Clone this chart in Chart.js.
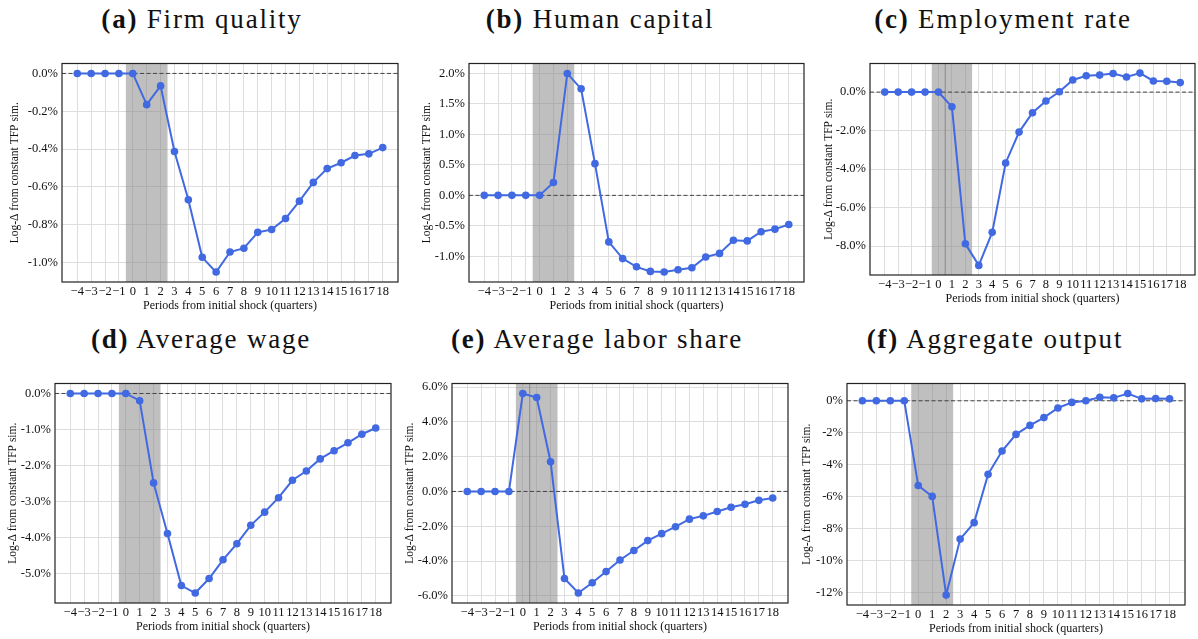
<!DOCTYPE html>
<html>
<head>
<meta charset="utf-8">
<script src="https://cdn.jsdelivr.net/npm/chart.js@4.4.1/dist/chart.umd.min.js"></script>
<style>
  html, body { margin: 0; padding: 0; background: #fff; overflow: hidden; }
  #wrap { position: relative; width: 1198px; height: 639px; font-family: "Liberation Serif", "DejaVu Serif", serif; }
  .ttl { position: absolute; font-size: 27px; letter-spacing: 1.8px; line-height: 1; white-space: nowrap; color: #111; transform: translateX(-50%); }
  .ttl b { font-weight: bold; }
  canvas { position: absolute; }
</style>
</head>
<body>
<div id="wrap"></div>
<script>
// periods relative to the shock (quarters)
const periods = [-4, -3, -2, -1, 0, 1, 2, 3, 4, 5, 6, 7, 8, 9, 10, 11, 12, 13, 14, 15, 16, 17, 18];

// series, log-deviation from constant TFP sim (%)
const firmQuality = [0, 0, 0, 0, 0, -0.165, -0.066, -0.413, -0.668, -0.972, -1.050, -0.944, -0.924, -0.840, -0.825, -0.767, -0.675, -0.576, -0.503, -0.472, -0.434, -0.425, -0.392];
const humanCapital = [0, 0, 0, 0, 0, 0.21, 2.0, 1.747, 0.52, -0.763, -1.037, -1.172, -1.247, -1.258, -1.220, -1.188, -1.011, -0.952, -0.737, -0.747, -0.597, -0.554, -0.478];
const employmentRate = [0, 0, 0, 0, 0, -0.766, -7.88, -9.00, -7.285, -3.68, -2.077, -1.072, -0.46, 0.017, 0.63, 0.851, 0.885, 0.97, 0.783, 0.987, 0.579, 0.562, 0.494];
const averageWage = [0, 0, 0, 0, 0, -0.2, -2.477, -3.88, -5.32, -5.528, -5.127, -4.608, -4.162, -3.652, -3.288, -2.887, -2.404, -2.149, -1.812, -1.585, -1.366, -1.129, -0.956];
const laborShare = [0, 0, 0, 0, 5.63, 5.40, 1.706, -5.005, -5.839, -5.251, -4.607, -3.943, -3.393, -2.825, -2.427, -2.028, -1.592, -1.403, -1.156, -0.91, -0.739, -0.512, -0.379];
const aggregateOutput = [0, 0, 0, 0, -5.30, -5.98, -12.14, -8.65, -7.62, -4.60, -3.14, -2.10, -1.54, -1.05, -0.45, -0.10, 0.0, 0.226, 0.185, 0.452, 0.123, 0.144, 0.123];

// y tick values for each panel
const firmTicks = [0, -0.2, -0.4, -0.6, -0.8, -1.0];
const humanTicks = [2, 1.5, 1, 0.5, 0, -0.5, -1];
const employmentTicks = [0, -2, -4, -6, -8];
const wageTicks = [0, -1, -2, -3, -4, -5];
const laborTicks = [6, 4, 2, 0, -2, -4, -6];
const outputTicks = [0, -2, -4, -6, -8, -10, -12];

// shaded shock window
const shockWindow = [-0.5, 2.5];

const xTitle = 'Periods from initial shock (quarters)';
const yTitle = 'Log-\u0394 from constant TFP sim.';
const serif = '"Liberation Serif", "DejaVu Serif", serif';

const panels = [
  { tag: '(a)', name: 'Firm quality', data: firmQuality, ticks: firmTicks, dec: 1, box: [62, 60, 398, 282], gap: 47, tx: 202, ty: 6 },
  { tag: '(b)', name: 'Human capital', data: humanCapital, ticks: humanTicks, dec: 1, box: [469, 60, 804, 282], gap: 42, tx: 600, ty: 6 },
  { tag: '(c)', name: 'Employment rate', data: employmentRate, ticks: employmentTicks, dec: 1, box: [870, 60, 1195, 275], gap: 41, tx: 1003, ty: 6, mid: true },
  { tag: '(d)', name: 'Average wage', data: averageWage, ticks: wageTicks, dec: 1, box: [55, 380, 391, 603], gap: 42, tx: 201, ty: 326 },
  { tag: '(e)', name: 'Average labor share', data: laborShare, ticks: laborTicks, dec: 1, box: [452, 380, 788, 603], gap: 42, tx: 597, ty: 326, mid: true },
  { tag: '(f)', name: 'Aggregate output', data: aggregateOutput, ticks: outputTicks, dec: 0, box: [847, 380, 1185, 605], gap: 40, tx: 995, ty: 326 }
];

// shading, zero line and frame
const decor = {
  id: 'decor',
  beforeDatasetsDraw(chart, args, opts) {
    const { ctx, chartArea: a, scales: { x, y } } = chart;
    ctx.save();
    ctx.fillStyle = 'rgba(128,128,128,0.5)';
    const x0 = x.getPixelForValue(shockWindow[0]);
    const x1 = x.getPixelForValue(shockWindow[1]);
    ctx.fillRect(x0, a.top, x1 - x0, a.bottom - a.top);
    if (opts.mid) {
      const xm = x.getPixelForValue(0.5);
      ctx.strokeStyle = '#8a8a8a';
      ctx.lineWidth = 1;
      ctx.beginPath();
      ctx.moveTo(xm, a.top);
      ctx.lineTo(xm, a.bottom);
      ctx.stroke();
    }
    const yz = y.getPixelForValue(0);
    ctx.strokeStyle = '#444';
    ctx.lineWidth = 1;
    ctx.setLineDash([4, 2.5]);
    ctx.beginPath();
    ctx.moveTo(a.left, yz);
    ctx.lineTo(a.right, yz);
    ctx.stroke();
    ctx.restore();
  },
  afterDraw(chart) {
    const { ctx, chartArea: a } = chart;
    ctx.save();
    ctx.strokeStyle = '#222';
    ctx.lineWidth = 1.2;
    ctx.strokeRect(a.left, a.top, a.right - a.left, a.bottom - a.top);
    ctx.restore();
  }
};

const wrap = document.getElementById('wrap');

panels.forEach(p => {
  const [l, t, r, b] = p.box;
  const W = p.gap + 7, H = 31, padTop = 8, padRight = 6;

  const title = document.createElement('div');
  title.className = 'ttl';
  title.style.left = p.tx + 'px';
  title.style.top = p.ty + 'px';
  title.innerHTML = '<b>' + p.tag + '</b> ' + p.name;
  wrap.appendChild(title);

  const cv = document.createElement('canvas');
  const cw = r - l + W + padRight, ch = b - t + padTop + H;
  cv.width = cw; cv.height = ch;
  cv.style.left = (l - W) + 'px';
  cv.style.top = (t - padTop) + 'px';
  cv.style.width = cw + 'px';
  cv.style.height = ch + 'px';
  wrap.appendChild(cv);

  const lo = Math.min(...p.data), hi = Math.max(...p.data);
  const span = hi - lo;
  const xlo = periods[0], xhi = periods[periods.length - 1];
  const xspan = xhi - xlo;

  new Chart(cv.getContext('2d'), {
    type: 'line',
    data: {
      datasets: [{
        data: periods.map((v, i) => ({ x: v, y: p.data[i] })),
        borderColor: '#4169E1',
        backgroundColor: '#4169E1',
        borderWidth: 2,
        pointRadius: 3.8,
        pointBorderWidth: 0,
        pointHoverRadius: 3.8,
        tension: 0
      }]
    },
    options: {
      responsive: false,
      animation: false,
      events: [],
      layout: { padding: { top: padTop, right: padRight, left: 0, bottom: 0 } },
      plugins: { legend: { display: false }, tooltip: { enabled: false }, decor: { mid: !!p.mid } },
      scales: {
        x: {
          type: 'linear',
          min: xlo - 0.05 * xspan,
          max: xhi + 0.05 * xspan,
          afterBuildTicks: s => { s.ticks = periods.map(v => ({ value: v })); },
          afterFit: s => { s.height = H; },
          grid: { color: '#dedede', lineWidth: 1, drawTicks: false },
          border: { display: false },
          ticks: {
            padding: 2,
            color: '#111',
            font: { family: serif, size: 12.5 },
            maxRotation: 0,
            autoSkip: false,
            callback: v => v < 0 ? '\u2212' + Math.abs(v) : String(v)
          },
          title: { display: true, text: xTitle, color: '#111', font: { family: serif, size: 12 }, padding: 0 }
        },
        y: {
          min: lo - 0.05 * span,
          max: hi + 0.05 * span,
          afterBuildTicks: s => { s.ticks = p.ticks.map(v => ({ value: v })); },
          afterFit: s => { s.width = W; },
          grid: { color: '#dedede', lineWidth: 1, drawTicks: false },
          border: { display: false },
          ticks: {
            padding: 4,
            color: '#111',
            font: { family: serif, size: 12.5 },
            callback: v => v.toFixed(p.dec) + '%'
          },
          title: { display: true, text: yTitle, color: '#111', font: { family: serif, size: 11.5 }, padding: 0 }
        }
      }
    },
    plugins: [decor]
  });
});
</script>
</body>
</html>
